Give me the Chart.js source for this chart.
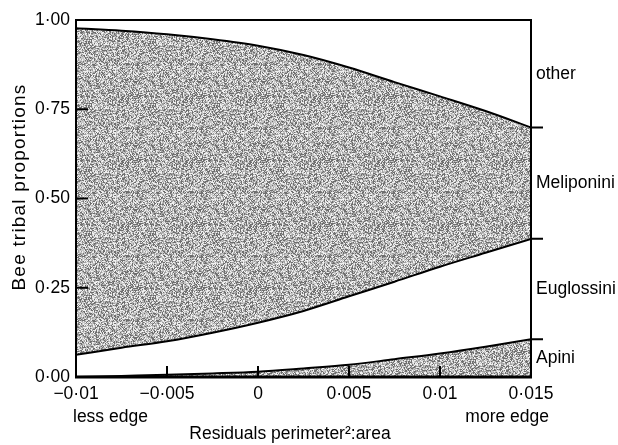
<!DOCTYPE html>
<html>
<head>
<meta charset="utf-8">
<script src="https://cdn.jsdelivr.net/npm/chart.js@4.4.1/dist/chart.umd.min.js"></script>
<style>
  html, body { margin: 0; padding: 0; background: #fff; }
  #wrap { width: 618px; height: 445px; }
</style>
</head>
<body>
<div id="wrap"><canvas id="c" width="618" height="445"></canvas></div>
<script>
// ---- data ----
const xValues = [-0.01, -0.0075, -0.005, -0.0025, 0, 0.0025, 0.005, 0.0075, 0.01, 0.0125, 0.015];
// cumulative upper boundary of each tribe band
const apiniUpper      = [0.000, 0.003, 0.006, 0.010, 0.015, 0.024, 0.034, 0.050, 0.066, 0.085, 0.106];
const euglossiniUpper = [0.062, 0.082, 0.100, 0.124, 0.152, 0.185, 0.226, 0.267, 0.309, 0.348, 0.387];
const meliponiniUpper = [0.977, 0.970, 0.960, 0.946, 0.928, 0.902, 0.867, 0.826, 0.786, 0.745, 0.699];
const otherUpper      = [1, 1, 1, 1, 1, 1, 1, 1, 1, 1, 1];
const tribeNames = ["Apini", "Euglossini", "Meliponini", "other"];

const xTickValues = [-0.01, -0.005, 0, 0.005, 0.01, 0.015];
const xTickLabels = ["\u22120\u00b701", "\u22120\u00b7005", "0", "0\u00b7005", "0\u00b701", "0\u00b7015"];
const yTickValues = [0, 0.25, 0.5, 0.75, 1];
const yTickLabels = ["0\u00b700", "0\u00b725", "0\u00b750", "0\u00b775", "1\u00b700"];
const xTitle = "Residuals perimeter\u00b2:area";
const yTitle = "Bee tribal proportions";
const xEndNotes = ["less edge", "more edge"];

// ---- stippled grey texture (deterministic hash noise) ----
function makePattern() {
  const N = 64;
  const pc = document.createElement('canvas');
  pc.width = N; pc.height = N;
  const g = pc.getContext('2d');
  const img = g.createImageData(N, N);
  const levels = [110, 160, 200, 240];
  for (let y = 0; y < N; y++) {
    for (let x = 0; x < N; x++) {
      let h = (x * 374761393 + y * 668265263) >>> 0;
      h = ((h ^ (h >>> 13)) * 1274126177) >>> 0;
      h = (h ^ (h >>> 16)) >>> 0;
      const v = levels[h & 3];
      const i = (y * N + x) * 4;
      img.data[i] = img.data[i + 1] = img.data[i + 2] = v;
      img.data[i + 3] = 255;
    }
  }
  g.putImageData(img, 0, 0);
  return g.createPattern(pc, 'repeat');
}
const grey = makePattern();

const toPts = arr => arr.map((v, i) => ({ x: xValues[i], y: v }));
const FONT = "'Liberation Sans', Arial, Helvetica, sans-serif";
const FS = 17.5;

const decor = {
  id: 'decor',
  beforeDraw(chart) {
    const ctx = chart.ctx;
    ctx.save();
    ctx.fillStyle = '#fff';
    ctx.fillRect(0, 0, chart.width, chart.height);
    ctx.restore();
  },
  afterDraw(chart) {
    const ctx = chart.ctx;
    const xs = chart.scales.x, ys = chart.scales.y;
    const L = xs.getPixelForValue(-0.01), R = xs.getPixelForValue(0.015);
    const T = ys.getPixelForValue(1), B = ys.getPixelForValue(0);
    ctx.save();
    ctx.strokeStyle = '#000';
    ctx.lineWidth = 2;
    ctx.lineCap = 'butt';
    // frame
    ctx.beginPath();
    ctx.moveTo(L, T); ctx.lineTo(R, T);
    ctx.moveTo(L, T - 1); ctx.lineTo(L, B + 1);
    ctx.moveTo(R, T - 1); ctx.lineTo(R, B + 1);
    ctx.stroke();
    ctx.lineWidth = 3;
    ctx.beginPath();
    ctx.moveTo(L - 1, B); ctx.lineTo(R + 1, B);
    ctx.stroke();
    // inward ticks
    ctx.lineWidth = 2;
    ctx.beginPath();
    yTickValues.forEach(v => {
      const py = ys.getPixelForValue(v);
      ctx.moveTo(L, py); ctx.lineTo(L + 12, py);
    });
    xTickValues.forEach(v => {
      const px = xs.getPixelForValue(v);
      ctx.moveTo(px, B); ctx.lineTo(px, B - 11);
    });
    // outward ticks on right axis at band boundaries
    const last = xValues.length - 1;
    const bounds = [apiniUpper[last], euglossiniUpper[last], meliponiniUpper[last]];
    bounds.forEach(v => {
      const py = ys.getPixelForValue(v);
      ctx.moveTo(R, py); ctx.lineTo(R + 12, py);
    });
    ctx.stroke();
    // right-hand band labels
    ctx.fillStyle = '#000';
    ctx.font = FS + "px " + FONT;
    ctx.textAlign = 'left';
    ctx.textBaseline = 'middle';
    const edges = [0, apiniUpper[last], euglossiniUpper[last], meliponiniUpper[last], otherUpper[last]];
    tribeNames.forEach((n, i) => {
      const mid = (edges[i] + edges[i + 1]) / 2;
      ctx.fillText(n, R + 5, ys.getPixelForValue(mid));
    });
    // less / more edge
    ctx.textAlign = 'left';
    ctx.fillText(xEndNotes[0], L - 3, 417);
    ctx.textAlign = 'right';
    ctx.fillText(xEndNotes[1], R + 18, 417);
    // axis titles
    ctx.textAlign = 'center';
    ctx.fillText(xTitle, 290, 434);
    ctx.save();
    ctx.translate(20, 187);
    ctx.rotate(-Math.PI / 2);
    ctx.font = "19px " + FONT;
    if ('letterSpacing' in ctx) ctx.letterSpacing = '1.2px';
    ctx.fillText(yTitle, 0, 0);
    ctx.restore();
    ctx.restore();
  }
};

const lineStyle = { borderColor: '#000', borderWidth: 2, pointRadius: 0, cubicInterpolationMode: 'monotone' };

new Chart(document.getElementById('c'), {
  type: 'line',
  data: {
    datasets: [
      Object.assign({ label: tribeNames[0], data: toPts(apiniUpper), fill: 'origin', backgroundColor: grey }, lineStyle),
      Object.assign({ label: tribeNames[1], data: toPts(euglossiniUpper), fill: '-1', backgroundColor: '#ffffff' }, lineStyle),
      Object.assign({ label: tribeNames[2], data: toPts(meliponiniUpper), fill: '-1', backgroundColor: grey }, lineStyle),
      Object.assign({ label: tribeNames[3], data: toPts(otherUpper), fill: '-1', backgroundColor: '#ffffff' }, lineStyle, { borderWidth: 0 })
    ]
  },
  options: {
    responsive: false,
    animation: false,
    events: [],
    layout: { padding: { left: 0, right: 87, top: 20, bottom: 0 } },
    plugins: { legend: { display: false }, tooltip: { enabled: false } },
    scales: {
      x: {
        type: 'linear', min: -0.01, max: 0.015,
        grid: { display: false, drawTicks: false },
        border: { display: false },
        afterBuildTicks: s => { s.ticks = xTickValues.map(v => ({ value: v })); },
        afterFit: s => { s.height = 68; },
        ticks: {
          autoSkip: false, maxRotation: 0, padding: 7, color: '#000',
          font: { family: FONT, size: FS },
          callback: (v, i) => xTickLabels[i]
        }
      },
      y: {
        type: 'linear', min: 0, max: 1,
        grid: { display: false, drawTicks: false },
        border: { display: false },
        afterBuildTicks: s => { s.ticks = yTickValues.map(v => ({ value: v })); },
        afterFit: s => { s.width = 76; },
        ticks: {
          autoSkip: false, padding: 6, color: '#000',
          font: { family: FONT, size: FS },
          callback: (v, i) => yTickLabels[i]
        }
      }
    }
  },
  plugins: [decor]
});
</script>
</body>
</html>
